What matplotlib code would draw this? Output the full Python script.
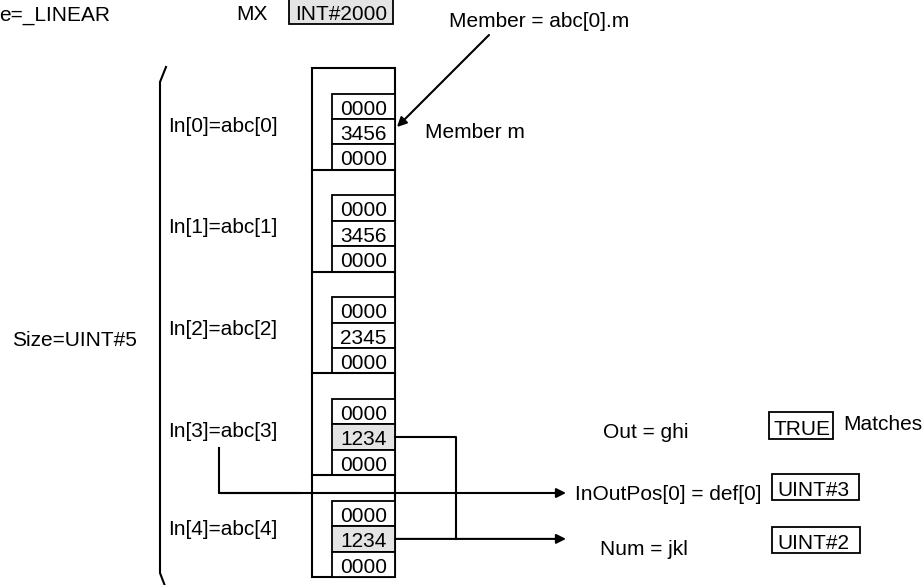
import matplotlib.pyplot as plt
from matplotlib.patches import Rectangle

# element labels and member values of the array
in_labels = ["In[0]=abc[0]", "In[1]=abc[1]", "In[2]=abc[2]", "In[3]=abc[3]", "In[4]=abc[4]"]
cell_values = [
    ["0000", "3456", "0000"],
    ["0000", "3456", "0000"],
    ["0000", "2345", "0000"],
    ["0000", "1234", "0000"],
    ["0000", "1234", "0000"],
]
highlight = [False, False, False, True, True]

out_labels = ["Out = ghi", "InOutPos[0] = def[0]", "Num = jkl"]
out_values = ["TRUE", "UINT#3", "UINT#2"]

plt.rcParams["font.family"] = ["Liberation Sans", "DejaVu Sans"]
FS = 15
GRAY = "#e4e4e4"

fig = plt.figure(figsize=(9.24, 5.85), dpi=100)
ax = fig.add_axes([0, 0, 1, 1])
ax.set_xlim(0, 924)
ax.set_ylim(585, 0)
ax.axis("off")

# header
ax.text(-1, 21, "e=_LINEAR", fontsize=FS, va="baseline", ha="left")
ax.text(236, 20, "MX", fontsize=FS, va="baseline", ha="left")
ax.add_patch(Rectangle((289, -3), 104, 27, fc=GRAY, ec="k", lw=1.3))
ax.text(295, 20, "INT#2000", fontsize=FS, va="baseline", ha="left")

# array column
top, bottom = 68, 577
n = len(in_labels)
h = (bottom - top) / n
x0, x1, xc = 312, 395, 332
pad = 25.6
ch = (h - pad) / 3
ax.add_patch(Rectangle((x0, top), x1 - x0, bottom - top, fc="none", ec="k", lw=1.5))
for k in range(n):
    y0 = top + k * h
    if k > 0:
        ax.plot([x0, x1], [y0, y0], color="k", lw=1.5)
    for j, v in enumerate(cell_values[k]):
        cy = y0 + pad + j * ch
        fc = GRAY if (highlight[k] and j == 1) else "white"
        ax.add_patch(Rectangle((xc, cy), x1 - xc, ch, fc=fc, ec="k", lw=1.3))
        ax.text((xc + x1) / 2, cy + 21, v, fontsize=FS, ha="center", va="baseline")
    ax.text(168, y0 + 63.5 + (-4 if k == n - 1 else 0), in_labels[k],
            fontsize=FS, ha="left", va="baseline")

# brace
ax.plot([166, 160, 160, 165], [67, 82, 573, 586], color="k", lw=1.5)
ax.text(12, 346, "Size=UINT#5", fontsize=FS, ha="left", va="baseline")

# member arrow
ax.annotate("", xy=(397, 127), xytext=(489, 35),
            arrowprops=dict(arrowstyle="-|>", color="k", lw=1.5,
                            mutation_scale=14, shrinkA=0, shrinkB=0))
ax.text(449, 27, "Member = abc[0].m", fontsize=FS, ha="left", va="baseline")
ax.text(425, 138, "Member m", fontsize=FS, ha="left", va="baseline")

# connection lines
y3 = top + 3 * h + pad + 1.5 * ch
y4 = top + 4 * h + pad + 1.5 * ch
ax.plot([x1, 456, 456], [y3, y3, y4], color="k", lw=1.5)
ax.annotate("", xy=(566, y4), xytext=(x1, y4),
            arrowprops=dict(arrowstyle="-|>", color="k", lw=1.5,
                            mutation_scale=14, shrinkA=0, shrinkB=0))
ax.plot([219, 219, 300], [448, 493, 493], color="k", lw=1.5)
ax.annotate("", xy=(566, 493), xytext=(219, 493),
            arrowprops=dict(arrowstyle="-|>", color="k", lw=1.5,
                            mutation_scale=14, shrinkA=0, shrinkB=0))

# outputs
lab_pos = [(603, 438), (575, 500), (600, 555)]
box_pos = [(769, 412, 64, 27), (772, 474, 87, 26), (772, 527, 88, 26)]
for lab, val, (lx, ly), (bx, by, bw, bh) in zip(out_labels, out_values, lab_pos, box_pos):
    ax.text(lx, ly, lab, fontsize=FS, ha="left", va="baseline")
    ax.add_patch(Rectangle((bx, by), bw, bh, fc="white", ec="k", lw=1.3))
    ax.text(bx + 4 + (1 if val != "TRUE" else 0) * 1, by + bh - 4, val,
            fontsize=FS, ha="left", va="baseline")
ax.text(843, 430, "Matches", fontsize=FS, ha="left", va="baseline")

fig.savefig("out.png", dpi=100)
